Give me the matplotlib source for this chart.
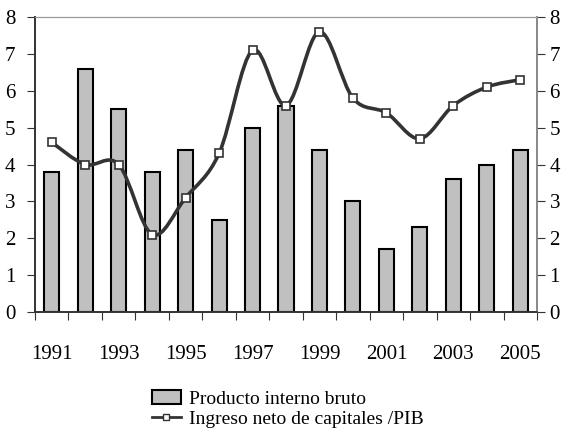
import matplotlib as mpl
mpl.use("Agg")
import matplotlib.pyplot as plt
import numpy as np
from matplotlib.path import Path
from matplotlib.patches import PathPatch, Patch
from matplotlib.lines import Line2D

plt.rcParams["font.family"] = ["Liberation Serif", "DejaVu Serif"]

years = [1991, 1992, 1993, 1994, 1995, 1996, 1997, 1998, 1999, 2000,
         2001, 2002, 2003, 2004, 2005]
pib = [3.8, 6.6, 5.5, 3.8, 4.4, 2.5, 5.0, 5.6, 4.4, 3.0, 1.7, 2.3, 3.6, 4.0, 4.4]
capitales = [4.6, 4.0, 4.0, 2.1, 3.1, 4.3, 7.1, 5.6, 7.6, 5.8, 5.4, 4.7, 5.6, 6.1, 6.3]
year_labels = [str(y) for y in years[::2]]

line_color = "#333333"


def smooth_path(xs, ys):
    # cubic bezier through every point, spreadsheet-style smoothing
    pts = np.column_stack([xs, ys]).astype(float)
    n = len(pts)
    verts = [pts[0]]
    codes = [Path.MOVETO]
    for i in range(n - 1):
        p0 = pts[max(i - 1, 0)]
        p1 = pts[i]
        p2 = pts[i + 1]
        p3 = pts[min(i + 2, n - 1)]
        c1 = p1 + (p2 - p0) / 6.0
        c2 = p2 - (p3 - p1) / 6.0
        verts += [c1, c2, p2]
        codes += [Path.CURVE4] * 3
    return Path(verts, codes)


fig = plt.figure(figsize=(5.63, 4.34), dpi=100)
ax = fig.add_axes([35 / 563, 1 - 312 / 434, (537 - 35) / 563, (312 - 17) / 434])

x = np.arange(len(years))
ax.bar(x, pib, width=0.45, color="#c0c0c0", edgecolor="black", linewidth=1.5, zorder=2)

ax.add_patch(PathPatch(smooth_path(x, capitales), facecolor="none",
                       edgecolor=line_color, linewidth=2.6, zorder=3))
ax.plot(x, capitales, ls="none", marker="s", markersize=6, markerfacecolor="white",
        markeredgecolor=line_color, markeredgewidth=1.2, zorder=4)

ax.set_xlim(-0.5, len(years) - 0.5)
ax.set_ylim(0, 8)
ax.set_yticks(range(0, 9))
ax.tick_params(axis="y", labelsize=15, length=6, direction="out", pad=8,
               colors="#333333", labelcolor="black")

# same 0-8 scale repeated on the right
ax_r = ax.twinx()
ax_r.set_ylim(ax.get_ylim())
ax_r.set_yticks(range(0, 9))
ax_r.tick_params(axis="y", labelsize=15, length=6, direction="out", pad=3,
                 colors="#333333", labelcolor="black")

# tick marks sit between the bars, year labels under every other bar
ax.set_xticks(np.arange(-0.5, len(years)), minor=False)
ax.set_xticklabels([])
ax.set_xticks(x[::2], minor=True)
ax.set_xticklabels(year_labels, minor=True)
ax.tick_params(axis="x", which="major", length=6, direction="out", colors="#333333")
ax.tick_params(axis="x", which="minor", length=0, labelsize=15, pad=24)

for a in [ax, ax_r]:
    for side in ["left", "bottom"]:
        a.spines[side].set_color("#333333")
        a.spines[side].set_linewidth(1.2)
    a.spines["top"].set_color("#999999")
    a.spines["right"].set_color("#888888")
    a.spines["right"].set_linewidth(1.2)

handles = [Patch(facecolor="#c0c0c0", edgecolor="black", linewidth=1.5),
           Line2D([], [], color=line_color, linewidth=2, marker="s", markersize=5,
                  markerfacecolor="white", markeredgecolor=line_color)]
fig.legend(handles, ["Producto interno bruto", "Ingreso neto de capitales /PIB"],
           loc="center", bbox_to_anchor=(0.511, 1 - 409 / 434), frameon=False,
           fontsize=14, handlelength=1.5, handletextpad=0.4, labelspacing=0.1,
           borderpad=0)

fig.savefig("out.png", dpi=100)
